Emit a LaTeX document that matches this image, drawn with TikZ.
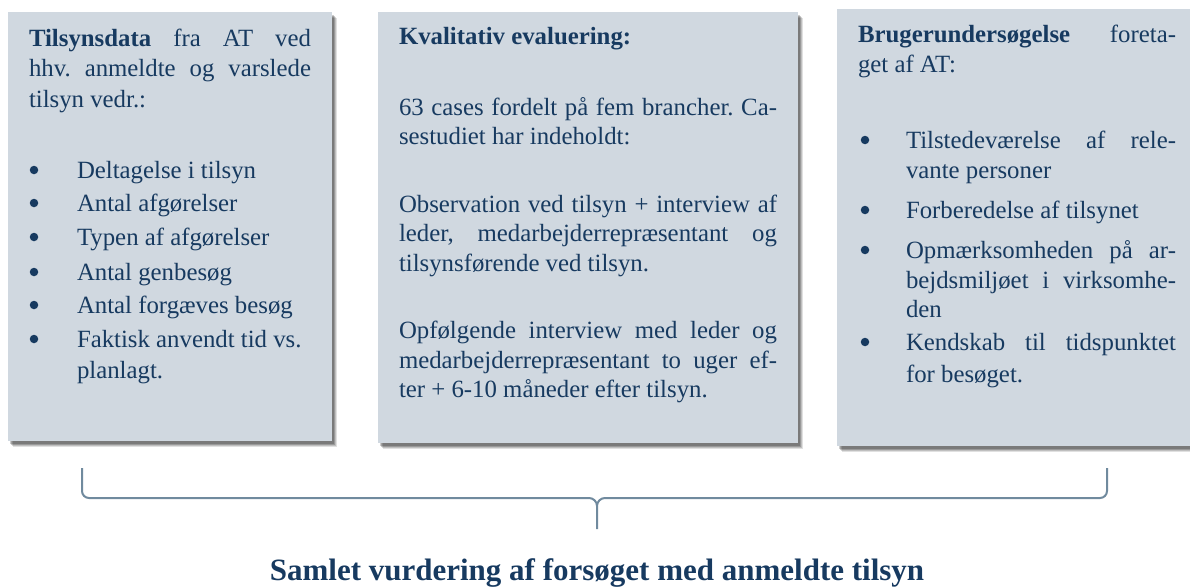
\documentclass[tikz,border=0pt]{standalone}
\usepackage{fontspec}
\setmainfont{Liberation Serif}
\usetikzlibrary{shadows}
\definecolor{boxfill}{RGB}{208,216,224}
\definecolor{txt}{RGB}{23,58,96}
\definecolor{bracec}{RGB}{112,138,158}
\newcommand{\jl}[2]{\makebox[#1][s]{#2}}
\frenchspacing
\begin{document}
\begin{tikzpicture}[x=1pt,y=-1pt,
  panel/.style={fill=boxfill,draw=none,inner sep=0pt,anchor=north west,
    drop shadow={shadow xshift=5pt,shadow yshift=-6pt,opacity=0.12,fill=black},
    drop shadow={shadow xshift=4pt,shadow yshift=-5pt,opacity=0.15,fill=black},
    drop shadow={shadow xshift=3pt,shadow yshift=-4pt,opacity=0.2,fill=black},
    drop shadow={shadow xshift=2pt,shadow yshift=-2.5pt,opacity=0.2,fill=black}},
  ln/.style={anchor=base west,inner sep=0pt,outer sep=0pt,text=txt,font=\fontsize{24.8}{30}\selectfont},
  ttl/.style={anchor=base,inner sep=0pt,text=txt,font=\fontsize{31}{36}\selectfont\bfseries},
  bul/.style={circle,fill=txt,draw=none,inner sep=0pt,minimum size=8.5pt},
  brace/.style={draw=bracec,line width=2pt,line join=round}]
\useasboundingbox (0,0) rectangle (1190,586);
\clip (0,0) rectangle (1190,586);
% panels
\node[panel,minimum width=324pt,minimum height=429pt] (p1) at (8,12) {};
\node[panel,minimum width=420pt,minimum height=431pt] (p2) at (378,12) {};
\node[panel,minimum width=370pt,minimum height=437pt] (p3) at (837,9) {};
% box 1
\node[ln] (a1) at (29,47) {\jl{282pt}{\textbf{Tilsynsdata} fra AT ved}};
\node[ln] (a2) at (29,77) {\jl{282pt}{hhv. anmeldte og varslede}};
\node[ln] (a3) at (29,107) {tilsyn vedr.:};
\node[bul] (ab1) at (34,170) {};
\node[ln] (a4) at (77,178) {Deltagelse i tilsyn};
\node[bul] (ab2) at (34,203) {};
\node[ln] (a5) at (77,211) {Antal afgørelser};
\node[bul] (ab3) at (34,237) {};
\node[ln] (a6) at (77,245) {Typen af afgørelser};
\node[bul] (ab4) at (34,272) {};
\node[ln] (a7) at (77,280) {Antal genbesøg};
\node[bul] (ab5) at (34,305) {};
\node[ln] (a8) at (77,313) {Antal forgæves besøg};
\node[bul] (ab6) at (34,339) {};
\node[ln] (a9) at (77,347) {Faktisk anvendt tid vs.};
\node[ln] (a10) at (77,378) {planlagt.};
% box 2
\node[ln] (b1) at (399,45) {\textbf{Kvalitativ evaluering:}};
\node[ln] (b2) at (399,115) {\jl{378pt}{63 cases fordelt på fem brancher. Ca-}};
\node[ln] (b3) at (399,144) {sestudiet har indeholdt:};
\node[ln] (b4) at (399,212) {\jl{378pt}{Observation ved tilsyn + interview af}};
\node[ln] (b5) at (399,241) {\jl{378pt}{leder, medarbejderrepræsentant og}};
\node[ln] (b6) at (399,271) {tilsynsførende ved tilsyn.};
\node[ln] (b7) at (399,338) {\jl{378pt}{Opfølgende interview med leder og}};
\node[ln] (b8) at (399,368) {\jl{378pt}{medarbejderrepræsentant to uger ef-}};
\node[ln] (b9) at (399,397) {ter + 6-10 måneder efter tilsyn.};
% box 3
\node[ln] (c1) at (858,42) {\jl{318pt}{\textbf{Brugerundersøgelse} foreta-}};
\node[ln] (c2) at (858,72) {get af AT:};
\node[bul] (cb1) at (865,140) {};
\node[ln] (c3) at (906,148) {\jl{270pt}{Tilstedeværelse af rele-}};
\node[ln] (c4) at (906,178) {vante personer};
\node[bul] (cb2) at (865,210) {};
\node[ln] (c5) at (906,218) {Forberedelse af tilsynet};
\node[bul] (cb3) at (865,250) {};
\node[ln] (c6) at (906,258) {\jl{270pt}{Opmærksomheden på ar-}};
\node[ln] (c7) at (906,288) {\jl{270pt}{bejdsmiljøet i virksomhe-}};
\node[ln] (c8) at (906,317) {den};
\node[bul] (cb4) at (865,342) {};
\node[ln] (c9) at (906,350) {\jl{270pt}{Kendskab til tidspunktet}};
\node[ln] (c10) at (906,382) {for besøget.};
% brace
\coordinate (bl) at (82,468);
\coordinate (br) at (1107,468);
\coordinate (bt) at (597,529);
\draw[brace] (bl) -- (82,491) to[out=-90,in=180] (89,498) -- (589,498)
  to[out=0,in=90] (bt|-0,506) -- (bt);
\draw[brace] (bt|-0,506) to[out=90,in=180] (605,498) -- (1100,498)
  to[out=0,in=-90] (1107,491) -- (br);
% title
\node[ttl] (title) at (597,580) {Samlet vurdering af forsøget med anmeldte tilsyn};
\end{tikzpicture}
\end{document}
